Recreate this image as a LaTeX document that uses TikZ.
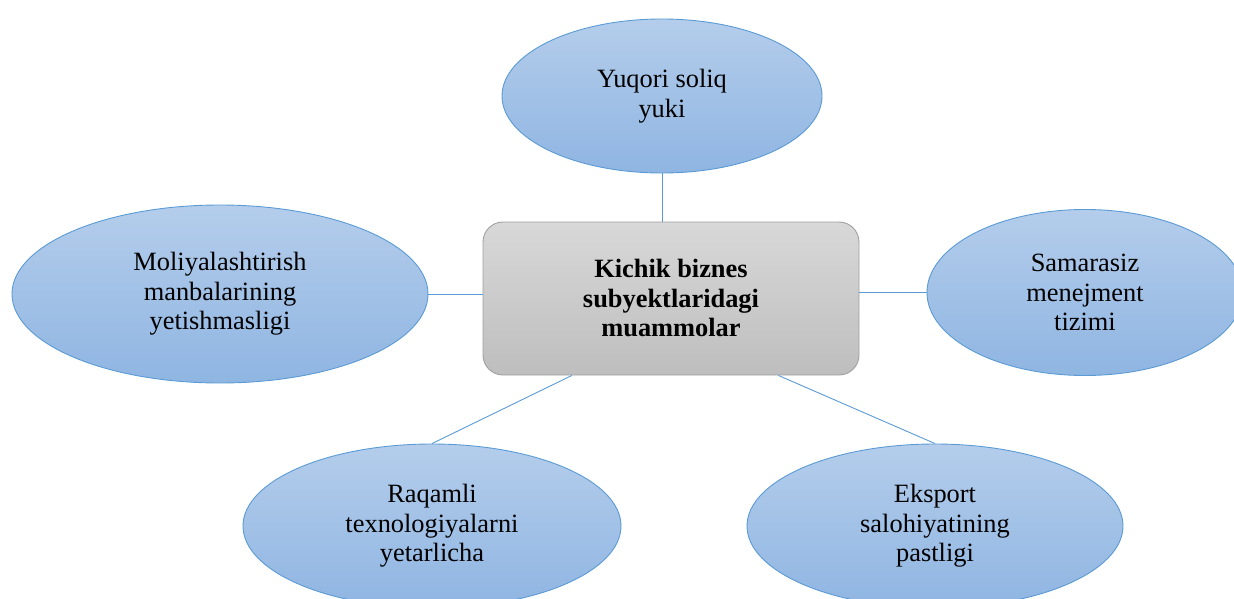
\documentclass[tikz,border=0pt]{standalone}
\usepackage{fontspec}
\setmainfont{Liberation Serif}
\usetikzlibrary{shapes.geometric,calc}

\definecolor{linkblue}{RGB}{91,155,213}
\definecolor{ovaltop}{RGB}{180,205,235}
\definecolor{ovalbot}{RGB}{143,181,226}
\definecolor{boxtop}{RGB}{216,216,216}
\definecolor{boxbot}{RGB}{190,190,190}
\definecolor{boxedge}{RGB}{160,160,160}

\tikzset{
  oval/.style={ellipse, draw=linkblue, line width=0.9pt,
    top color=ovaltop, bottom color=ovalbot, inner sep=0pt,
    align=center, font=\fontsize{26.4}{29.5}\selectfont},
  hubbox/.style={rectangle, rounded corners=20pt, draw=boxedge, line width=0.9pt,
    top color=boxtop, bottom color=boxbot, inner sep=0pt,
    minimum width=376pt, minimum height=153pt,
    align=center, font=\fontsize{26.4}{29.5}\selectfont\bfseries},
  link/.style={draw=linkblue, line width=0.9pt}
}

\begin{document}
\begin{tikzpicture}[x=1pt,y=-1pt]
  \useasboundingbox (0,0) rectangle (1234,599);
  \clip (0,0) rectangle (1234,599);

  % central problem box
  \node[hubbox] (hub) at (671,298.5) {Kichik biznes\\subyektlaridagi\\muammolar};

  % surrounding causes
  \node[oval, minimum width=320pt, minimum height=154pt] (tax) at (662,96)
    {Yuqori soliq\\yuki};
  \node[oval, minimum width=416pt, minimum height=178pt] (fin) at (220,294)
    {Moliyalashtirish\\manbalarining\\yetishmasligi};
  \node[oval, minimum width=316pt, minimum height=166pt] (mgmt) at (1085,292.5)
    {Samarasiz\\menejment\\tizimi};
  \node[oval, minimum width=378pt, minimum height=164pt] (tech) at (432,526)
    {Raqamli\\texnologiyalarni\\yetarlicha};
  \node[oval, minimum width=376pt, minimum height=164pt] (exp) at (935,526)
    {Eksport\\salohiyatining\\pastligi};

  % attachment points on the lower edge of the box
  \coordinate (hubSW) at ($(hub.south west)!0.237!(hub.south east)$);
  \coordinate (hubSE) at ($(hub.south west)!0.785!(hub.south east)$);

  % connectors
  \draw[link] (tax.south) -- (tax.south |- hub.north);
  \draw[link] (fin.east) -- (fin.east -| hub.west);
  \draw[link] (mgmt.west) -- (mgmt.west -| hub.east);
  \draw[link] (hubSW) -- (tech.north);
  \draw[link] (hubSE) -- (exp.north);
\end{tikzpicture}
\end{document}
